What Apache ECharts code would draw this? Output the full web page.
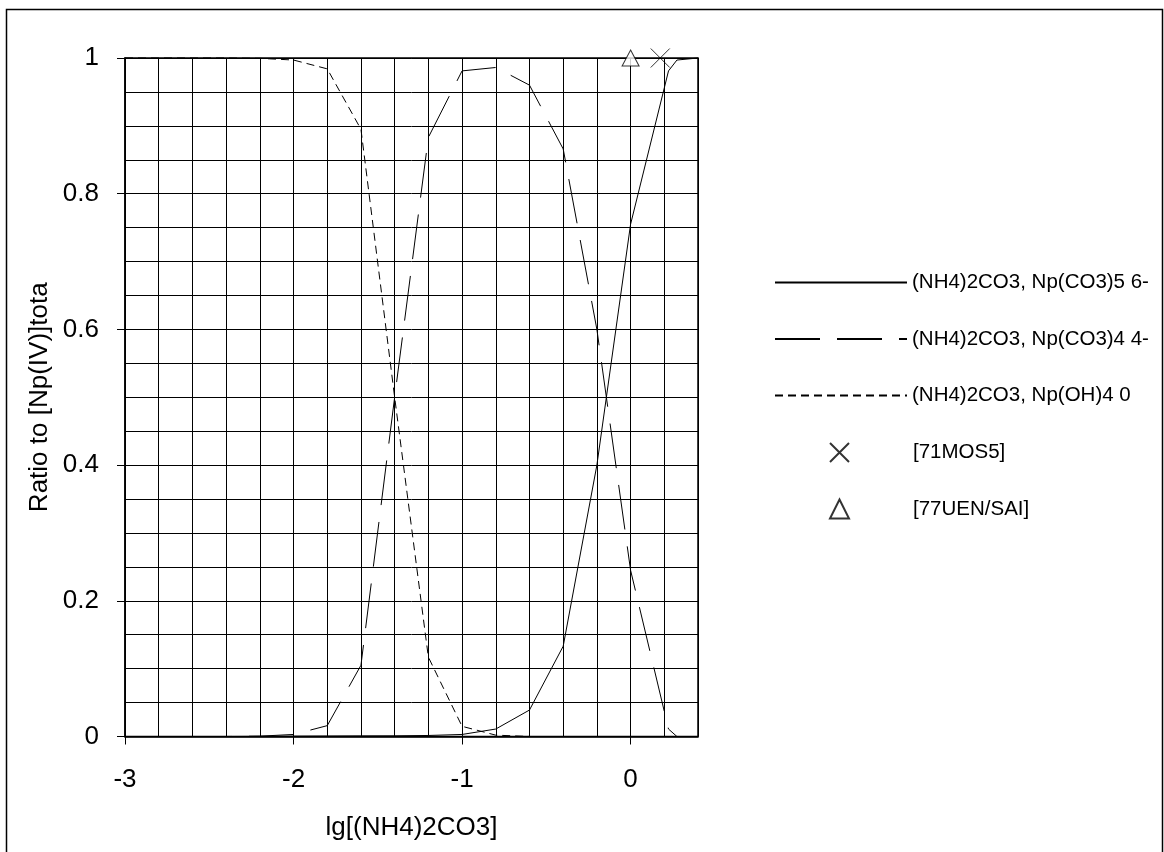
<!DOCTYPE html>
<html>
<head>
<meta charset="utf-8">
<script src="https://cdn.jsdelivr.net/npm/echarts@6/dist/echarts.min.js"></script>
<style>
  html, body { margin: 0; padding: 0; background: #fff; }
  #chart { width: 1164px; height: 852px; }
</style>
</head>
<body>
<div id="chart"></div>
<script>
// lg[(NH4)2CO3] grid points
const xValues = [-3, -2.8, -2.6, -2.4, -2.2, -2, -1.8, -1.6, -1.4, -1.2, -1, -0.8, -0.6, -0.4, -0.2, 0, 0.225, 0.275, 0.4];
// species fractions relative to total Np(IV)
const co3_5 = [0, 0, 0, 0, 0.0002, 0.0005, 0.0007, 0.0009, 0.001, 0.0015, 0.003, 0.011, 0.039, 0.133, 0.40, 0.755, 0.981, 0.997, 1];
const co3_4 = [0, 0, 0, 0, 0.0005, 0.003, 0.016, 0.105, 0.50, 0.883, 0.981, 0.986, 0.960, 0.866, 0.60, 0.245, 0.011, 0, 0];
const oh4   = [1, 1, 1, 1, 0.9995, 0.997, 0.984, 0.895, 0.50, 0.117, 0.015, 0.002, 0, 0, 0, 0, 0, 0, 0];
// literature points
const mosX = [0.176], mosY = [1.0];
const uenX = [0], uenY = [1.0];
// axis labels
const xTickLabels = [-3, -2, -1, 0];
const yTickLabels = [0, 0.2, 0.4, 0.6, 0.8, 1];

const names = ['(NH4)2CO3, Np(CO3)5 6-', '(NH4)2CO3, Np(CO3)4 4-', '(NH4)2CO3, Np(OH)4 0', '[71MOS5]', '[77UEN/SAI]'];

const pairs = (xs, ys) => xs.map((x, i) => [x, ys[i]]);
const FONT = "'Liberation Sans', Arial, sans-serif";
const fmt = v => String(Math.round(v * 100) / 100);
const lineSeries = (name, ys, dash) => ({
  name, type: 'line', data: pairs(xValues, ys),
  symbol: 'none', showSymbol: false, clip: false, z: 5,
  lineStyle: { color: '#000', width: 1, type: dash },
  itemStyle: { color: '#000' }
});

// grid axes: fine split lines only
const gridX = {
  type: 'value', min: -3, max: 0.4, interval: 0.2,
  axisLine: { show: false }, axisTick: { show: false }, axisLabel: { show: false },
  splitLine: { show: true, lineStyle: { color: '#000', width: 1 } }
};
const gridY = {
  type: 'value', min: 0, max: 1, interval: 0.05,
  axisLine: { show: false }, axisTick: { show: false }, axisLabel: { show: false },
  splitLine: { show: true, lineStyle: { color: '#000', width: 1 } }
};
// labelled axes: ticks and labels at the major values
const labelX = {
  type: 'value', min: -3, max: 0.4, position: 'bottom',
  name: 'lg[(NH4)2CO3]', nameLocation: 'middle', nameGap: 78,
  nameTextStyle: { fontSize: 26, color: '#000', fontFamily: FONT },
  axisLine: { show: true, onZero: false, lineStyle: { color: '#000', width: 1.5 } },
  axisTick: { show: true, customValues: xTickLabels, length: 8, lineStyle: { color: '#000' } },
  axisLabel: { customValues: xTickLabels, fontSize: 26, color: '#000', margin: 30, fontFamily: FONT, formatter: fmt },
  splitLine: { show: false }
};
const labelY = {
  type: 'value', min: 0, max: 1, position: 'left',
  name: 'Ratio to [Np(IV)]tota', nameLocation: 'middle', nameGap: 72, nameRotate: 90,
  nameTextStyle: { fontSize: 26, color: '#000', fontFamily: FONT },
  axisLine: { show: true, onZero: false, lineStyle: { color: '#000', width: 1.5 } },
  axisTick: { show: true, customValues: yTickLabels, length: 8, lineStyle: { color: '#000' } },
  axisLabel: { customValues: yTickLabels, fontSize: 26, color: '#000', margin: 26, fontFamily: FONT, formatter: fmt },
  splitLine: { show: false }
};

const chart = echarts.init(document.getElementById('chart'), null, { renderer: 'canvas' });
chart.setOption({
  backgroundColor: '#fff',
  animation: false,
  textStyle: { fontFamily: FONT },
  graphic: [{
    type: 'rect', silent: true, z: -1,
    shape: { x: 6.5, y: 9.5, width: 1156, height: 900 },
    style: { fill: 'none', stroke: '#000', lineWidth: 1.5 }
  }],
  grid: { left: 125, top: 58, right: 466, bottom: 115.5, show: true, borderColor: '#000', borderWidth: 1.5, backgroundColor: 'transparent' },
  xAxis: [gridX, labelX],
  yAxis: [gridY, labelY],
  legend: [{
    data: names.slice(0, 3), orient: 'vertical', left: 774, top: 272, padding: 0,
    itemWidth: 132, itemHeight: 14, itemGap: 35.5,
    itemStyle: { color: 'transparent', borderColor: 'transparent', borderWidth: 0 },
    textStyle: { fontSize: 20.5, color: '#000', fontFamily: FONT }
  }, {
    data: names.slice(3), orient: 'vertical', left: 829, top: 442, padding: 0,
    itemWidth: 19, itemHeight: 19, itemGap: 35.5,
    formatter: '{t|{name}}',
    textStyle: { fontSize: 20.5, color: '#000', fontFamily: FONT,
                 rich: { t: { fontSize: 20.5, color: '#000', fontFamily: FONT, padding: [0, 0, 0, 59] } } }
  }],
  series: [
    lineSeries(names[0], co3_5, 'solid'),
    lineSeries(names[1], co3_4, [45, 17]),
    lineSeries(names[2], oh4, [8, 5]),
    {
      name: names[3], type: 'scatter', data: pairs(mosX, mosY), clip: false, z: 6,
      symbol: 'path://M0,0L10,10M10,0L0,10', symbolSize: 19,
      itemStyle: { color: 'transparent', borderColor: '#000', borderWidth: 1 }
    },
    {
      name: names[4], type: 'scatter', data: pairs(uenX, uenY), clip: false, z: 6,
      symbol: 'triangle', symbolSize: [17, 16],
      itemStyle: { color: '#fff', borderColor: '#000', borderWidth: 1 }
    }
  ]
});
</script>
</body>
</html>
